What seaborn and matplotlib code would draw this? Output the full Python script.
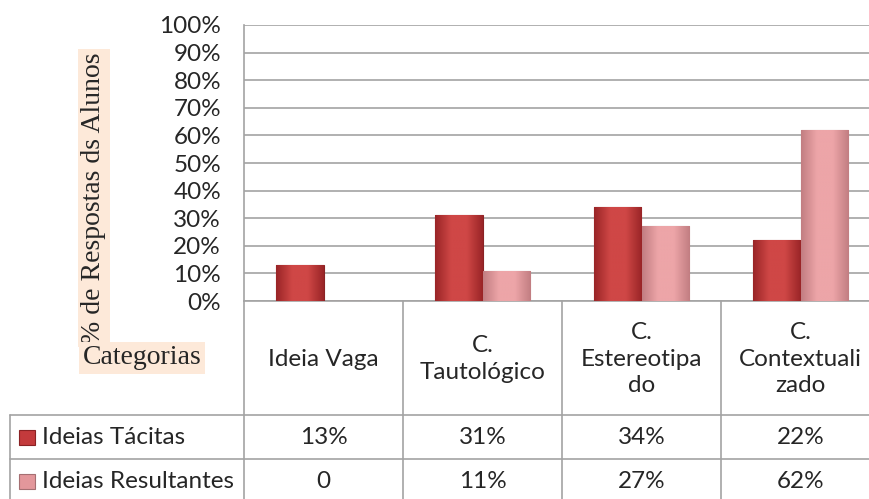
import numpy as np
import pandas as pd
import matplotlib.pyplot as plt
from matplotlib.patches import Rectangle
import seaborn as sns

# dados do gráfico
categorias = ['Ideia Vaga', 'C. Tautológico', 'C. Estereotipado', 'C. Contextualizado']
rotulos_tabela = ['Ideia Vaga', 'C.\nTautológico', 'C.\nEstereotipa\ndo', 'C.\nContextuali\nzado']
series = ['Ideias Tácitas', 'Ideias Resultantes']
tacitas = [13, 31, 34, 22]
resultantes = [0, 11, 27, 62]
yticks = list(range(0, 101, 10))

cores = {'Ideias Tácitas': '#c33a3c', 'Ideias Resultantes': '#e3979b'}
bordas = {'Ideias Tácitas': '#8a2224', 'Ideias Resultantes': '#a56f72'}
grad = {'Ideias Tácitas': ('#9a2527', '#cf4746'), 'Ideias Resultantes': ('#c27e82', '#eda5a8')}
cinza = '#a3a3a3'

df = pd.DataFrame({
    'categoria': categorias * 2,
    'serie': [series[0]] * 4 + [series[1]] * 4,
    'valor': tacitas + resultantes,
})

sns.set_style('white')
plt.rcParams['font.family'] = ['Lato', 'DejaVu Sans']

W, H = 870, 499
fig = plt.figure(figsize=(W / 100, H / 100), dpi=100)

# área do gráfico (em pixels da imagem)
x0, y_top, y_base, col_w = 244, 25, 301, 159
ax = fig.add_axes([x0 / W, (H - y_base) / H, 4 * col_w / W, (y_base - y_top) / H])

sns.barplot(data=df, x='categoria', y='valor', hue='serie', palette=cores,
            width=0.6, ax=ax, legend=False, saturation=1, zorder=3)

ax.set_xlim(-0.5, 3.5)
ax.set_ylim(0, 100)
ax.set_yticks(yticks)
ax.set_yticklabels([f'{v}%' for v in yticks], fontsize=17.5)
ax.tick_params(axis='y', length=0, pad=16.5)
ax.set_xticks([])
ax.set_xlabel('')
ax.set_ylabel('')
ax.grid(axis='y', color=cinza, lw=1.2, zorder=0)
ax.grid(axis='x', visible=False)
for s in ['top', 'right']:
    ax.spines[s].set_visible(False)
for s in ['left', 'bottom']:
    ax.spines[s].set_color(cinza)
    ax.spines[s].set_linewidth(1.2)

# efeito de gradiente nas barras
for cont, serie in zip(ax.containers, series):
    c_ext, c_int = grad[serie]
    cmap = sns.blend_palette([c_ext, c_int, c_int, c_ext], as_cmap=True)
    for p in cont.patches:
        p.set_edgecolor(bordas[serie])
        p.set_linewidth(0.8)
        bx, by, bw, bh = p.get_x(), p.get_y(), p.get_width(), p.get_height()
        if bh <= 0:
            continue
        g = np.linspace(0, 1, 64).reshape(1, -1)
        im = ax.imshow(g, cmap=cmap, extent=[bx, bx + bw, by, by + bh],
                       aspect='auto', zorder=3.5, interpolation='bicubic')
        im.set_clip_path(p)
ax.set_xlim(-0.5, 3.5)
ax.set_ylim(0, 100)

# camada em pixels para a tabela de dados
ov = fig.add_axes([0, 0, 1, 1])
ov.set_xlim(0, W)
ov.set_ylim(H, 0)
ov.axis('off')
ov.patch.set_alpha(0)

row1, row2, row_end = 415, 459, 499
x_tab = 10
for i in range(5):
    xc = x0 + i * col_w
    ov.plot([xc, xc], [y_base, row_end], color=cinza, lw=1.2)
ov.plot([x_tab, x_tab], [row1, row_end], color=cinza, lw=1.2)
for yy in [row1, row2]:
    ov.plot([x_tab, W], [yy, yy], color=cinza, lw=1.2)

for i, rot in enumerate(rotulos_tabela):
    cx = x0 + (i + 0.5) * col_w
    ov.text(cx, 359, rot, ha='center', va='center', fontsize=17.5, linespacing=1.3)
    vals = [tacitas[i], resultantes[i]]
    for yy, v in zip([437, 481], vals):
        ov.text(cx, yy, f'{v}%' if v else '0', ha='center', va='center', fontsize=17.5)

for yy, serie in zip([437, 481], series):
    ov.add_patch(Rectangle((19, yy - 7.5), 16, 15, fc=cores[serie], ec=bordas[serie], lw=0.8))
    ov.text(42, yy, serie, ha='left', va='center', fontsize=17.5)

# rótulos em serifa com fundo salmão
caixa = dict(boxstyle='square,pad=0.12', fc='#fde9d9', ec='none')
ov.text(94, 198, '% de Respostas ds Alunos', rotation=90, ha='center', va='center',
        fontsize=20, family='Liberation Serif', bbox=caixa)
ov.text(142, 358, 'Categorias', ha='center', va='center', fontsize=20,
        family='Liberation Serif', bbox=caixa)

fig.savefig('out.png', dpi=100)
